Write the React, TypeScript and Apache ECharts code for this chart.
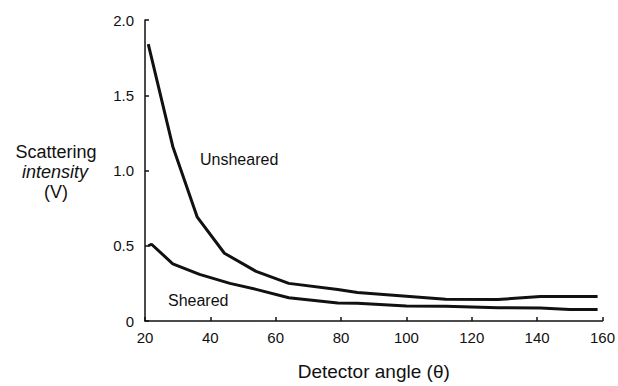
import React, { useEffect, useRef } from "react";
import * as echarts from "echarts";

const angles = [21, 28.5, 36, 44.3, 54, 64, 79, 85, 100, 112, 128, 141, 158.5];
const unsheared = [1.84, 1.16, 0.69, 0.45, 0.33, 0.25, 0.21, 0.19, 0.165, 0.145, 0.143, 0.162, 0.163];
const anglesS = [21, 22, 28.5, 36.7, 46, 54, 64, 79, 85, 100, 112, 128, 141, 150, 158.5];
const sheared = [0.5, 0.51, 0.38, 0.31, 0.25, 0.21, 0.155, 0.12, 0.118, 0.1, 0.098, 0.088, 0.086, 0.077, 0.077];
const xTicks = [20, 40, 60, 80, 100, 120, 140, 160];
const yTicks = [0, 0.5, 1.0, 1.5, 2.0];

export default function App() {
  const ref = useRef<HTMLDivElement>(null);
  useEffect(() => {
    document.body.style.margin = "0";
    const chart = echarts.init(ref.current!, null, { renderer: "svg" });
    const font = "'Liberation Sans', Arial, Helvetica, sans-serif";
    chart.setOption({
      animation: false,
      backgroundColor: "#fff",
      grid: { left: 145, right: 13, top: 20, bottom: 61 },
      xAxis: {
        type: "value",
        min: xTicks[0],
        max: xTicks[xTicks.length - 1],
        interval: 20,
        name: "Detector angle (\u03b8)",
        nameLocation: "middle",
        nameGap: 41,
        nameTextStyle: { fontFamily: font, fontSize: 19, color: "#111" },
        axisLine: { lineStyle: { color: "#111", width: 1.5 } },
        axisTick: { inside: true, length: 4, lineStyle: { color: "#111", width: 1.5 } },
        axisLabel: { fontFamily: font, fontSize: 15, color: "#111", margin: 9 },
        splitLine: { show: false },
      },
      yAxis: {
        type: "value",
        min: yTicks[0],
        max: yTicks[yTicks.length - 1],
        interval: 0.5,
        axisLine: { show: true, lineStyle: { color: "#111", width: 1.5 } },
        axisTick: { show: true, inside: true, length: 4, lineStyle: { color: "#111", width: 1.5 } },
        axisLabel: {
          fontFamily: font,
          fontSize: 15,
          color: "#111",
          margin: 11,
          formatter: (v: number) => (v === 0 ? "0" : v.toFixed(1)),
        },
        splitLine: { show: false },
      },
      series: [
        {
          type: "line",
          data: angles.map((a, i) => [a, unsheared[i]]),
          showSymbol: false,
          lineStyle: { color: "#111", width: 3 },
        },
        {
          type: "line",
          data: anglesS.map((a, i) => [a, sheared[i]]),
          showSymbol: false,
          lineStyle: { color: "#111", width: 3 },
        },
      ],
      graphic: [
        { type: "text", x: 200, y: 159, style: { text: "Unsheared", font: `16px ${font}`, fill: "#111", verticalAlign: "middle" } },
        { type: "text", x: 168, y: 300, style: { text: "Sheared", font: `16px ${font}`, fill: "#111", verticalAlign: "middle" } },
        { type: "text", x: 56, y: 152, style: { text: "Scattering", font: `18px ${font}`, fill: "#111", align: "center", verticalAlign: "middle" } },
        { type: "text", x: 55, y: 172, style: { text: "intensity", font: `italic 18px ${font}`, fill: "#111", align: "center", verticalAlign: "middle" } },
        { type: "text", x: 56, y: 192, style: { text: "(V)", font: `18px ${font}`, fill: "#111", align: "center", verticalAlign: "middle" } },
      ],
    });
    return () => chart.dispose();
  }, []);
  return <div ref={ref} style={{ width: 618, height: 386 }} />;
}
